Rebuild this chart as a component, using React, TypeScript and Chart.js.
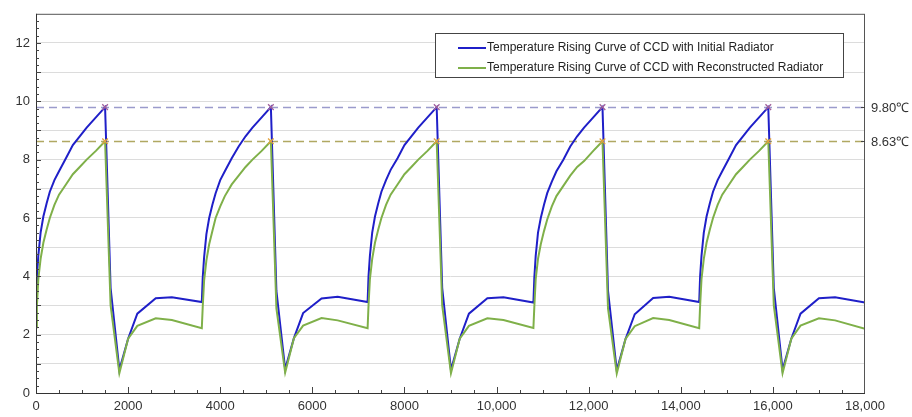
import React, { useEffect, useRef } from "react";
import { Chart, registerables } from "chart.js";

Chart.register(...registerables);

// time (s)
const TIME: number[] = [
  0, 20, 50, 100, 160, 230, 300, 400, 500, 650, 800, 950, 1100, 1300, 1500, 1620, 1810, 2000, 2200, 2600, 2950,
  3600, 3620, 3650, 3700, 3760, 3830, 3900, 4000, 4100, 4250, 4400, 4550, 4700, 4900, 5100, 5220, 5410, 5600, 5800, 6200, 6550,
  7200, 7220, 7250, 7300, 7360, 7430, 7500, 7600, 7700, 7850, 8000, 8150, 8300, 8500, 8700, 8820, 9010, 9200, 9400, 9800, 10150,
  10800, 10820, 10850, 10900, 10960, 11030, 11100, 11200, 11300, 11450, 11600, 11750, 11900, 12100, 12300, 12420, 12610, 12800, 13000, 13400, 13750,
  14400, 14420, 14450, 14500, 14560, 14630, 14700, 14800, 14900, 15050, 15200, 15350, 15500, 15700, 15900, 16020, 16210, 16400, 16600, 17000, 17350,
  18000,
];

// Temperature Rising Curve of CCD with Initial Radiator
const INITIAL: number[] = [
  3.1, 4.0, 4.7, 5.5, 6.05, 6.5, 6.9, 7.3, 7.6, 8.05, 8.5, 8.8, 9.1, 9.45, 9.8, 3.6, 0.8, 1.86, 2.72, 3.25, 3.28,
  3.12, 3.95, 4.65, 5.45, 6.0, 6.45, 6.85, 7.3, 7.6, 8.05, 8.45, 8.8, 9.1, 9.45, 9.8, 3.5, 0.82, 1.88, 2.74, 3.24, 3.3,
  3.12, 4.0, 4.7, 5.5, 6.05, 6.5, 6.9, 7.3, 7.65, 8.05, 8.5, 8.8, 9.1, 9.45, 9.8, 3.6, 0.8, 1.86, 2.72, 3.25, 3.28,
  3.1, 3.95, 4.7, 5.5, 6.0, 6.45, 6.85, 7.25, 7.6, 8.0, 8.45, 8.8, 9.1, 9.45, 9.8, 3.5, 0.78, 1.85, 2.7, 3.26, 3.3,
  3.12, 4.0, 4.7, 5.5, 6.05, 6.5, 6.9, 7.3, 7.6, 8.05, 8.5, 8.8, 9.1, 9.45, 9.8, 3.6, 0.8, 1.86, 2.72, 3.25, 3.28,
  3.1,
];

// Temperature Rising Curve of CCD with Reconstructed Radiator
const RECONSTRUCTED: number[] = [
  2.25, 3.0, 3.9, 4.6, 5.15, 5.6, 6.0, 6.45, 6.8, 7.15, 7.5, 7.75, 8.0, 8.3, 8.63, 3.0, 0.68, 1.86, 2.3, 2.56, 2.5,
  2.22, 2.95, 3.85, 4.55, 5.1, 5.55, 6.0, 6.4, 6.75, 7.15, 7.45, 7.75, 8.0, 8.3, 8.63, 2.9, 0.7, 1.88, 2.31, 2.57, 2.49,
  2.22, 3.0, 3.9, 4.6, 5.15, 5.6, 6.0, 6.45, 6.8, 7.15, 7.5, 7.75, 8.0, 8.3, 8.63, 3.0, 0.68, 1.86, 2.3, 2.56, 2.5,
  2.23, 2.95, 3.9, 4.6, 5.1, 5.55, 5.95, 6.4, 6.75, 7.1, 7.45, 7.75, 7.95, 8.3, 8.63, 2.9, 0.67, 1.85, 2.29, 2.57, 2.5,
  2.22, 3.0, 3.9, 4.6, 5.15, 5.6, 6.0, 6.45, 6.8, 7.15, 7.5, 7.75, 8.0, 8.3, 8.63, 3.0, 0.68, 1.86, 2.31, 2.56, 2.49,
  2.2,
];

const SERIES_NAMES = [
  "Temperature Rising Curve of CCD with Initial Radiator",
  "Temperature Rising Curve of CCD with Reconstructed Radiator",
];
const REF_LEVELS = [9.8, 8.63];
const REF_LABELS = ["9.80℃", "8.63℃"];

const BLUE = "#1f1fc8";
const GREEN = "#7fb049";
const FONT = "'Liberation Sans', Arial, sans-serif";

function peaksOf(values: number[]) {
  const mx = Math.max(...values);
  const pts: { x: number; y: number }[] = [];
  values.forEach((v, i) => {
    if (v === mx) pts.push({ x: TIME[i], y: v });
  });
  return pts;
}

export default function App() {
  const ref = useRef<HTMLCanvasElement | null>(null);

  useEffect(() => {
    const canvas = ref.current;
    if (!canvas) return;

    const decorPlugin = {
      id: "decor",
      beforeDatasetsDraw(chart: any) {
        const { ctx, chartArea: a, scales } = chart;
        const y = scales.y;
        const refColors = ["#9b9bcc", "#b0a862"];
        ctx.save();
        REF_LEVELS.forEach((lv, i) => {
          const py = Math.round(y.getPixelForValue(lv)) + 0.5;
          ctx.strokeStyle = refColors[i];
          ctx.lineWidth = 1.3;
          ctx.setLineDash([8, 5]);
          ctx.beginPath();
          ctx.moveTo(a.left, py);
          ctx.lineTo(a.right, py);
          ctx.stroke();
        });
        ctx.restore();
      },
      afterDatasetsDraw(chart: any) {
        const { ctx, chartArea: a, scales } = chart;
        const x = scales.x;
        const y = scales.y;
        ctx.save();
        ctx.setLineDash([]);
        // frame
        ctx.strokeStyle = "#555";
        ctx.lineWidth = 1;
        ctx.strokeRect(a.left + 0.5, a.top + 0.5, a.right - a.left - 1, a.bottom - a.top);
        ctx.strokeStyle = "#333";
        ctx.beginPath();
        ctx.moveTo(a.left + 0.5, a.top);
        ctx.lineTo(a.left + 0.5, a.bottom + 0.5);
        ctx.lineTo(a.right, a.bottom + 0.5);
        ctx.stroke();
        // x ticks (inward)
        ctx.strokeStyle = "#444";
        for (let v = 500; v < 18000; v += 500) {
          const px = Math.round(x.getPixelForValue(v)) + 0.5;
          const len = v % 2000 === 0 ? 6 : 3;
          ctx.beginPath();
          ctx.moveTo(px, a.bottom);
          ctx.lineTo(px, a.bottom - len);
          ctx.stroke();
        }
        // y ticks (inward)
        for (let v = 0.25; v < 13; v += 0.25) {
          const py = Math.round(y.getPixelForValue(v)) + 0.5;
          const len = Math.abs(v - Math.round(v)) < 1e-6 ? 5 : 3;
          ctx.beginPath();
          ctx.moveTo(a.left, py);
          ctx.lineTo(a.left + len, py);
          ctx.stroke();
        }
        // reference labels on the right
        ctx.font = `13px ${FONT}`;
        ctx.fillStyle = "#333";
        ctx.textBaseline = "middle";
        ctx.textAlign = "left";
        REF_LEVELS.forEach((lv, i) => {
          const py = Math.round(y.getPixelForValue(lv)) + 0.5;
          ctx.strokeStyle = "#444";
          ctx.beginPath();
          ctx.moveTo(a.right - 4, py);
          ctx.lineTo(a.right, py);
          ctx.stroke();
          ctx.fillText(REF_LABELS[i], a.right + 6, py + 1);
        });
        // legend
        const lx = 435.5, ly = 33.5, lw = 408, lh = 44;
        ctx.fillStyle = "#fff";
        ctx.fillRect(lx, ly, lw, lh);
        ctx.strokeStyle = "#444";
        ctx.lineWidth = 1;
        ctx.strokeRect(lx, ly, lw, lh);
        const cols = [BLUE, GREEN];
        ctx.font = `12px ${FONT}`;
        SERIES_NAMES.forEach((name, i) => {
          const cy = 48 + i * 20;
          ctx.strokeStyle = cols[i];
          ctx.lineWidth = 2;
          ctx.beginPath();
          ctx.moveTo(458, cy);
          ctx.lineTo(486, cy);
          ctx.stroke();
          ctx.fillStyle = "#222";
          ctx.fillText(name, 487, cy);
        });
        ctx.restore();
      },
    };

    const chart = new Chart(canvas, {
      type: "line",
      data: {
        datasets: [
          {
            label: SERIES_NAMES[0],
            data: TIME.map((t, i) => ({ x: t, y: INITIAL[i] })),
            borderColor: BLUE,
            borderWidth: 2,
            pointRadius: 0,
            tension: 0,
            order: 2,
          },
          {
            label: SERIES_NAMES[1],
            data: TIME.map((t, i) => ({ x: t, y: RECONSTRUCTED[i] })),
            borderColor: GREEN,
            borderWidth: 2,
            pointRadius: 0,
            tension: 0,
            order: 1,
          },
          {
            type: "scatter",
            label: "peak1",
            data: peaksOf(INITIAL),
            pointStyle: "crossRot",
            pointRadius: 4,
            borderColor: "#a0609c",
            borderWidth: 1.3,
            showLine: false,
            order: 0,
          },
          {
            type: "scatter",
            label: "peak2",
            data: peaksOf(RECONSTRUCTED),
            pointStyle: "crossRot",
            pointRadius: 4,
            borderColor: "#e3a13c",
            borderWidth: 1.3,
            showLine: false,
            order: 0,
          },
        ] as any,
      },
      options: {
        animation: false,
        responsive: false,
        maintainAspectRatio: false,
        layout: { padding: { left: 0, right: 47, top: 12, bottom: 0 } },
        plugins: {
          legend: { display: false },
          tooltip: { enabled: false },
        },
        scales: {
          x: {
            type: "linear",
            min: 0,
            max: 18000,
            afterFit: (s: any) => {
              s.height = 24;
            },
            ticks: {
              stepSize: 2000,
              maxRotation: 0,
              autoSkip: false,
              padding: 6,
              color: "#333",
              font: { family: FONT, size: 13 },
              callback: (v: any) => {
                const n = Number(v);
                return n >= 10000 ? n.toLocaleString("en-US") : String(n);
              },
            },
            grid: { display: false, drawTicks: false },
            border: { display: false },
          },
          y: {
            type: "linear",
            min: 0,
            max: 13,
            afterFit: (s: any) => {
              s.width = 36;
            },
            ticks: {
              stepSize: 1,
              autoSkip: false,
              padding: 6,
              color: "#333",
              font: { family: FONT, size: 13 },
              callback: (v: any) => (Number(v) % 2 === 0 ? String(v) : ""),
            },
            grid: {
              color: (c: any) => (c.tick && c.tick.value > 0 && c.tick.value < 13 ? "#dcdcdc" : "rgba(0,0,0,0)"),
              lineWidth: 1,
              drawTicks: false,
            },
            border: { display: false },
          },
        },
      } as any,
      plugins: [decorPlugin],
    });

    return () => chart.destroy();
  }, []);

  return (
    <div style={{ position: "fixed", left: 0, top: 0, width: 912, height: 417, background: "#fff" }}>
      <canvas ref={ref} width={912} height={417} style={{ display: "block" }} />
    </div>
  );
}
